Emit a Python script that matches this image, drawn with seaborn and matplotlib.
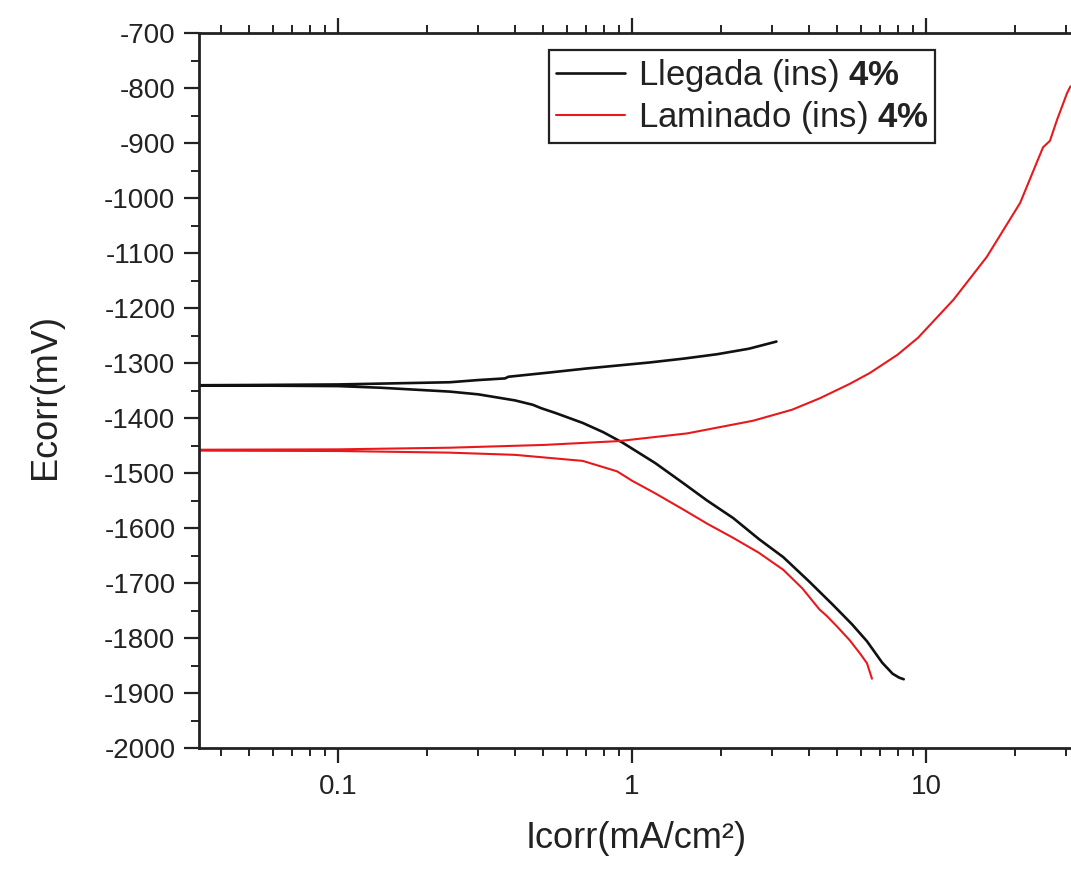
import numpy as np
import pandas as pd
import matplotlib
matplotlib.use("Agg")
import matplotlib.pyplot as plt
import matplotlib.ticker as mticker
import seaborn as sns

# ---- data ----
series_names = ["Llegada (ins) 4%", "Laminado (ins) 4%"]

llegada_cat_i = [0.02, 0.05, 0.1, 0.14, 0.24, 0.3, 0.4, 0.46, 0.49, 0.55, 0.68, 0.8, 0.93, 1.2,
                 1.49, 1.8, 2.21, 2.7, 3.27, 4.0, 4.83, 5.6, 6.3, 7.1, 7.7, 8.1, 8.4]
llegada_cat_e = [-1341, -1341, -1342, -1345, -1352, -1357, -1368, -1376, -1382, -1391, -1409, -1426,
                 -1445, -1482, -1518, -1550, -1582, -1620, -1653, -1697, -1740, -1775, -1806, -1845,
                 -1865, -1872, -1875]
llegada_an_i = [0.02, 0.05, 0.1, 0.24, 0.3, 0.37, 0.38, 0.53, 0.7, 1.15, 1.5, 1.95, 2.5, 3.1]
llegada_an_e = [-1341, -1340, -1339, -1335, -1331, -1328, -1325, -1317, -1310, -1299, -1292, -1284,
                -1274, -1261]

laminado_cat_i = [0.02, 0.1, 0.24, 0.4, 0.68, 0.89, 1.0, 1.2, 1.49, 1.8, 2.21, 2.7, 3.27, 3.8, 4.34,
                  4.6, 5.0, 5.5, 6.0, 6.3, 6.55]
laminado_cat_e = [-1459, -1460, -1463, -1467, -1478, -1497, -1514, -1537, -1566, -1592, -1618, -1645,
                  -1676, -1710, -1748, -1760, -1780, -1804, -1830, -1846, -1874]
laminado_an_i = [0.02, 0.1, 0.24, 0.5, 0.9, 1.54, 2.58, 3.5, 4.36, 5.5, 6.45, 8.0, 9.4, 12.4, 16.1,
                 20.9, 23.0, 25.0, 26.4, 27.9, 30.2, 31.0]
laminado_an_e = [-1458, -1457, -1454, -1449, -1442, -1428, -1405, -1385, -1364, -1338, -1318, -1285,
                 -1254, -1185, -1107, -1009, -955, -908, -896, -858, -809, -797]

y_ticks = [-2000, -1900, -1800, -1700, -1600, -1500, -1400, -1300, -1200, -1100, -1000, -900, -800, -700]
x_ticks = [0.1, 1, 10]
x_tick_labels = ["0.1", "1", "10"]

colors = {series_names[0]: "#111111", series_names[1]: "#e8191c"}
widths = {series_names[0]: 1.9, series_names[1]: 1.5}


def curve(name, ci, ce, ai, ae):
    i = list(reversed(ci)) + ai
    e = list(reversed(ce)) + ae
    return pd.DataFrame({"I": i, "E": e, "serie": name, "order": np.arange(len(i))})


df = pd.concat([
    curve(series_names[0], llegada_cat_i, llegada_cat_e, llegada_an_i, llegada_an_e),
    curve(series_names[1], laminado_cat_i, laminado_cat_e, laminado_an_i, laminado_an_e),
], ignore_index=True)

sns.set_theme(style="white")
plt.rcParams["font.family"] = ["Liberation Sans", "DejaVu Sans"]
plt.rcParams["axes.unicode_minus"] = False
plt.rcParams["mathtext.fontset"] = "custom"
plt.rcParams["mathtext.rm"] = "Liberation Sans"
plt.rcParams["mathtext.bf"] = "Liberation Sans:bold"

W, H = 1071, 873
fig = plt.figure(figsize=(W / 100, H / 100), dpi=100)
x0, x1, y_top, y_bot = 199, 1076, 33, 748
ax = fig.add_axes([x0 / W, 1 - y_bot / H, (x1 - x0) / W, (y_bot - y_top) / H])

for name in series_names:
    sub = df[df["serie"] == name]
    sns.lineplot(data=sub, x="I", y="E", sort=False, estimator=None, color=colors[name],
                 linewidth=widths[name], ax=ax, label=name)

ax.set_xscale("log")
xmin = 10 ** (-1 - (338 - x0) / 294.0)
xmax = 10 ** (1 + (x1 - 926) / 294.0)
ax.set_xlim(xmin, xmax)
ax.set_ylim(-2000, -700)

ax.set_yticks(y_ticks)
ax.set_yticklabels([str(v) for v in y_ticks])
ax.yaxis.set_minor_locator(mticker.MultipleLocator(50))
ax.set_xticks(x_ticks)
ax.set_xticklabels(x_tick_labels)
ax.xaxis.set_minor_locator(mticker.LogLocator(base=10, subs=np.arange(2, 10), numticks=20))
ax.xaxis.set_minor_formatter(mticker.NullFormatter())

for s in ax.spines.values():
    s.set_linewidth(2.0)
    s.set_color("#222222")

ax.tick_params(axis="both", which="major", direction="out", length=11, width=1.6,
               labelsize=20, colors="#222222", labelcolor="#222222")
ax.tick_params(axis="both", which="minor", direction="out", length=6, width=1.4, colors="#222222")
ax.tick_params(axis="x", which="both", top=True, bottom=True, pad=8)
ax.tick_params(axis="y", which="both", left=True, right=False, pad=6)

ax.set_xlabel("Icorr(mA/cm²)", fontsize=26, color="#222222")
ax.set_ylabel("Ecorr(mV)", fontsize=26, color="#222222")
ax.xaxis.label.set_va("center")
ax.yaxis.label.set_va("center")
ax.xaxis.set_label_coords((636 - x0) / (x1 - x0), (y_bot - 838) / (y_bot - y_top))
ax.yaxis.set_label_coords((45 - x0) / (x1 - x0), (y_bot - 397) / (y_bot - y_top))

handles, _ = ax.get_legend_handles_labels()
leg_labels = [r"Llegada (ins) $\mathbf{4\%}$", r"Laminado (ins) $\mathbf{4\%}$"]
leg = ax.legend(handles, leg_labels, loc="upper left",
                bbox_to_anchor=(549 / W, 1 - 50 / H), bbox_transform=fig.transFigure,
                fontsize=25, frameon=True, fancybox=False, framealpha=1, edgecolor="#222222",
                handlelength=2.0, handletextpad=0.35, borderpad=0.2, labelspacing=0.15,
                borderaxespad=0)
leg.get_frame().set_linewidth(1.6)
for t in leg.get_texts():
    t.set_color("#222222")

fig.savefig("out.png", dpi=100, facecolor="white")
